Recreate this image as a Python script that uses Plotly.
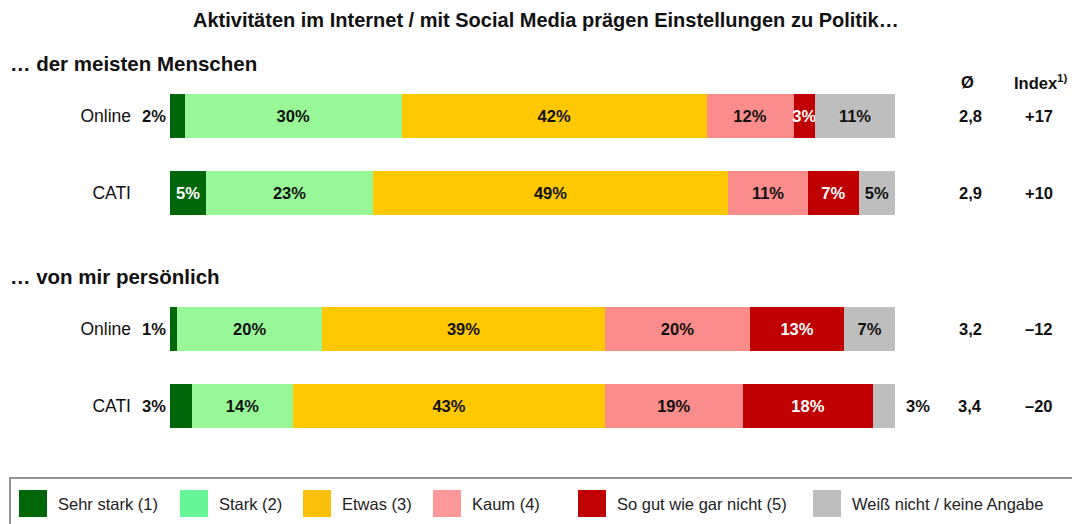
import plotly.graph_objects as go
from plotly.subplots import make_subplots

# --- data -------------------------------------------------------------------
categories = ["Sehr stark (1)", "Stark (2)", "Etwas (3)", "Kaum (4)",
              "So gut wie gar nicht (5)", "Weiß nicht / keine Angabe"]
rows = ["Online", "CATI"]
groups = ["… der meisten Menschen", "… von mir persönlich"]

meisten_online = [2, 30, 42, 12, 3, 11]
meisten_cati = [5, 23, 49, 11, 7, 5]
persoenlich_online = [1, 20, 39, 20, 13, 7]
persoenlich_cati = [3, 14, 43, 19, 18, 3]

mean_meisten = ["2,8", "2,9"]
mean_persoenlich = ["3,2", "3,4"]
index_meisten = ["+17", "+10"]
index_persoenlich = ["–12", "–20"]

title = "Aktivitäten im Internet / mit Social Media prägen Einstellungen zu Politik…"

# --- styling ----------------------------------------------------------------
bar_colors = ["#00660a", "#98f898", "#ffc800", "#fb8c8c", "#c00000", "#bebebe"]
legend_colors = ["#00660a", "#66f598", "#fbc10a", "#ff9999", "#c00000", "#bebebe"]
text_colors = ["white", "#111111", "#111111", "#111111", "white", "#111111"]
FONT = "Liberation Sans, Arial, sans-serif"
INK = "#111111"

W, H = 1072, 524
L, R = 170, 177


def px_x(px):
    return (px - L) / (W - L - R)


def px_y(py):
    return 1 - py / H


def note(x, y, text, size=16.5, xref="paper", yref="paper", xanchor="center",
         color=INK, **kw):
    return dict(x=x, y=y, xref=xref, yref=yref, text=text, showarrow=False,
                xanchor=xanchor, yanchor="middle",
                font=dict(size=size, color=color, family=FONT), **kw)


fig = make_subplots(rows=2, cols=1, shared_xaxes=True)

group_data = [
    (meisten_online, meisten_cati, mean_meisten, index_meisten),
    (persoenlich_online, persoenlich_cati, mean_persoenlich, index_persoenlich),
]

annotations = []
for g, (online, cati, means, idx) in enumerate(group_data):
    yref = "y" if g == 0 else "y2"
    for c, cat in enumerate(categories):
        vals = [online[c], cati[c]]
        texts = []
        for r, v in enumerate(vals):
            outside = v <= 3 and c in (0, len(categories) - 1)
            texts.append("" if outside else f"{v}%")
            if outside:
                # small edge segments get their label beside the bar
                left = c == 0
                annotations.append(note(0 if left else 100, r, f"<b>{v}%</b>",
                                        xref="x", yref=yref,
                                        xanchor="right" if left else "left",
                                        xshift=-2 if left else 9))
        fig.add_trace(go.Bar(
            x=vals, y=rows, orientation="h", name=cat,
            marker=dict(color=bar_colors[c], line=dict(width=0)),
            text=texts, texttemplate="<b>%{text}</b>",
            textposition="inside", insidetextanchor="middle",
            constraintext="none", textangle=0,
            textfont=dict(size=16.5, color=text_colors[c], family=FONT),
            width=0.56, showlegend=False, hoverinfo="skip",
        ), row=g + 1, col=1)

    for r in range(len(rows)):
        annotations.append(note(px_x(970), r, f"<b>{means[r]}</b>", yref=yref))
        annotations.append(note(px_x(1039), r, f"<b>{idx[r]}</b>", yref=yref))

# headers
annotations.append(note(px_x(W / 2 + 10), px_y(20), f"<b>{title}</b>", size=20))
for g, py in zip(groups, [63, 276]):
    annotations.append(note(px_x(8), px_y(py), f"<b>{g}</b>", size=20.5,
                            xanchor="left"))
annotations.append(note(px_x(968), px_y(82), "<b>Ø</b>"))
annotations.append(note(px_x(1041), px_y(82), "<b>Index<sup>1)</sup></b>"))

# legend box drawn by hand (bigger swatches than plotly's legend allows)
shapes = [dict(type="rect", xref="paper", yref="paper",
               x0=px_x(10), x1=px_x(1085), y0=px_y(478), y1=px_y(535),
               line=dict(color="#707070", width=1.5), fillcolor="rgba(0,0,0,0)")]
legend_x = [19, 180, 303, 433, 578, 813]
for c, cat in enumerate(categories):
    x0 = legend_x[c]
    shapes.append(dict(type="rect", xref="paper", yref="paper",
                       x0=px_x(x0), x1=px_x(x0 + 28), y0=px_y(517), y1=px_y(490),
                       line=dict(width=0), fillcolor=legend_colors[c]))
    annotations.append(note(px_x(x0 + 37), px_y(503.5), cat, size=16.5,
                            xanchor="left", color="#222222"))

fig.update_layout(
    width=W, height=H,
    margin=dict(l=L, r=R, t=0, b=0),
    barmode="stack",
    paper_bgcolor="white", plot_bgcolor="white",
    font=dict(family=FONT, size=16, color=INK),
    annotations=annotations, shapes=shapes,
    showlegend=False,
)
fig.update_xaxes(range=[0, 100], visible=False, fixedrange=True)
fig.update_yaxes(type="category", categoryarray=rows, autorange="reversed",
                 showgrid=False, zeroline=False, showline=False, ticks="",
                 tickfont=dict(size=17.5, color=INK, family=FONT),
                 ticklabelstandoff=38, fixedrange=True)
fig.update_yaxes(domain=[px_y(231.5), px_y(77.5)], row=1, col=1)
fig.update_yaxes(domain=[px_y(444.5), px_y(290.5)], row=2, col=1)

fig.write_html("out.html", config={"displayModeBar": False},
               post_script="document.body.style.margin='0';")
